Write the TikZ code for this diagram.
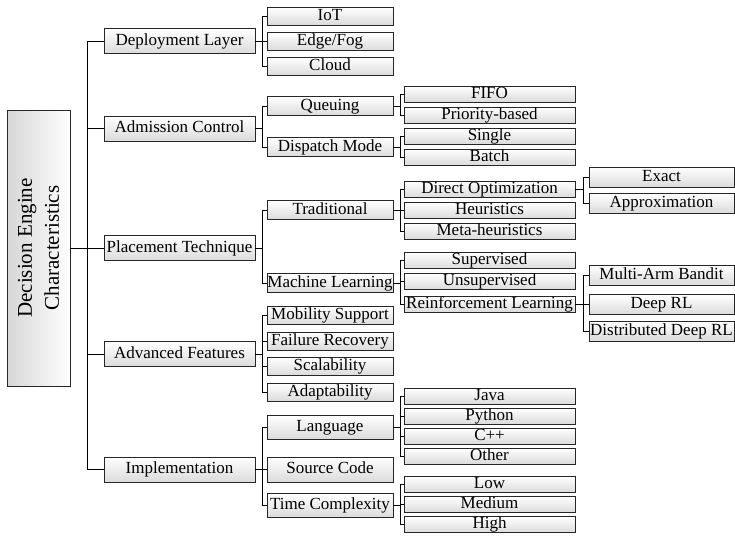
\documentclass[tikz,border=0pt]{standalone}
\usepackage{fontspec}
\setmainfont{Liberation Serif}
\usetikzlibrary{shadows}

\begin{document}
\begin{tikzpicture}[
    x=1pt, y=-1pt,
    cell/.style={rectangle, draw=black!85, line width=0.7pt, top color=white, bottom color=black!14, inner sep=0pt, text height=12pt, text depth=3.6pt, font=\fontsize{17}{19}\selectfont, drop shadow={shadow xshift=0.8pt, shadow yshift=-0.8pt, fill=black!45}},
    rootbox/.style={rectangle, draw=black!85, line width=0.7pt, left color=black!16, right color=white, rotate=90, align=center, minimum width=276pt, minimum height=63pt, font=\fontsize{21}{27}\selectfont},
    lvlone/.style={cell, minimum width=151pt, minimum height=25pt},
    lvltwo/.style={cell, minimum width=126pt, minimum height=18pt},
    lvlthree/.style={cell, minimum width=171pt, minimum height=16pt},
    lvlfour/.style={cell, minimum width=145pt, minimum height=20pt},
    link/.style={draw=black, line width=0.9pt}
]
\useasboundingbox (0,0) rectangle (735,535);

\node[rootbox] (root) at (38.5,248) {Decision Engine\\Characteristics};

% main characteristics
\node[lvlone] (dep) at (179.5,41) {Deployment Layer};
\node[lvlone] (adm) at (179.5,128.5) {Admission Control};
\node[lvlone] (plc) at (179.5,248) {Placement Technique};
\node[lvlone] (adv) at (179.5,354) {Advanced Features};
\node[lvlone] (imp) at (179.5,469.5) {Implementation};

% second level
\node[lvltwo] (iot) at (330,16) {IoT};
\node[lvltwo] (edge) at (330,41.5) {Edge/Fog};
\node[lvltwo] (cloud) at (330,66.5) {Cloud};
\node[lvltwo, minimum height=19pt] (que) at (330,106) {Queuing};
\node[lvltwo, minimum height=19pt] (dsp) at (330,147) {Dispatch Mode};
\node[lvltwo, minimum height=19pt] (trd) at (330,210) {Traditional};
\node[lvltwo, minimum height=19pt] (ml) at (330,283) {Machine Learning};
\node[lvltwo] (mob) at (330,315.5) {Mobility Support};
\node[lvltwo] (fail) at (330,341) {Failure Recovery};
\node[lvltwo] (scal) at (330,366.5) {Scalability};
\node[lvltwo] (adap) at (330,392) {Adaptability};
\node[lvltwo, minimum height=24pt] (lang) at (330,427) {Language};
\node[lvltwo, minimum height=25pt] (src) at (330,469.5) {Source Code};
\node[lvltwo, minimum height=24pt] (tcx) at (330,505) {Time Complexity};

% third level
\node[lvlthree] (fifo) at (489.5,94) {FIFO};
\node[lvlthree] (prio) at (489.5,115) {Priority-based};
\node[lvlthree] (sing) at (489.5,136) {Single};
\node[lvlthree] (batch) at (489.5,157) {Batch};
\node[lvlthree] (dopt) at (489.5,189.5) {Direct Optimization};
\node[lvlthree] (heur) at (489.5,210.5) {Heuristics};
\node[lvlthree] (meta) at (489.5,231) {Meta-heuristics};
\node[lvlthree] (sup) at (489.5,260.5) {Supervised};
\node[lvlthree] (unsup) at (489.5,281.5) {Unsupervised};
\node[lvlthree] (rl) at (489.5,304) {Reinforcement Learning};
\node[lvlthree] (java) at (489.5,396) {Java};
\node[lvlthree] (py) at (489.5,416) {Python};
\node[lvlthree] (cpp) at (489.5,436) {C++};
\node[lvlthree] (oth) at (489.5,456) {Other};
\node[lvlthree] (low) at (489.5,484.5) {Low};
\node[lvlthree] (med) at (489.5,504.5) {Medium};
\node[lvlthree] (high) at (489.5,524.5) {High};

% fourth level
\node[lvlfour] (exact) at (661.5,177) {Exact};
\node[lvlfour] (approx) at (661.5,203) {Approximation};
\node[lvlfour] (mab) at (661.5,275) {Multi-Arm Bandit};
\node[lvlfour] (drl) at (661.5,304.5) {Deep RL};
\node[lvlfour] (ddrl) at (661.5,331) {Distributed Deep RL};

% connectors
\draw[link] (root.south) -- ++(17,0) coordinate (trunk);
\foreach \c in {dep,adm,plc,adv,imp}
    \draw[link] (trunk) |- (\c.west);

\foreach \c in {iot,edge,cloud}
    \draw[link] (dep.east) -- ++(7,0) |- (\c.west);
\foreach \c in {que,dsp}
    \draw[link] (adm.east) -- ++(7,0) |- (\c.west);
\foreach \c in {trd,ml}
    \draw[link] (plc.east) -- ++(7,0) |- (\c.west);
\foreach \c in {mob,fail,scal,adap}
    \draw[link] (adv.east) -- ++(7,0) |- (\c.west);
\foreach \c in {lang,src,tcx}
    \draw[link] (imp.east) -- ++(7,0) |- (\c.west);

\foreach \c in {fifo,prio}
    \draw[link] (que.east) -- ++(7,0) |- (\c.west);
\foreach \c in {sing,batch}
    \draw[link] (dsp.east) -- ++(7,0) |- (\c.west);
\foreach \c in {dopt,heur,meta}
    \draw[link] (trd.east) -- ++(7,0) |- (\c.west);
\foreach \c in {sup,unsup,rl}
    \draw[link] (ml.east) -- ++(7,0) |- (\c.west);
\foreach \c in {java,py,cpp,oth}
    \draw[link] (lang.east) -- ++(7,0) |- (\c.west);
\foreach \c in {low,med,high}
    \draw[link] (tcx.east) -- ++(7,0) |- (\c.west);

\foreach \c in {exact,approx}
    \draw[link] (dopt.east) -- ++(8,0) |- (\c.west);
\foreach \c in {mab,drl,ddrl}
    \draw[link] (rl.east) -- ++(8,0) |- (\c.west);

\end{tikzpicture}
\end{document}
